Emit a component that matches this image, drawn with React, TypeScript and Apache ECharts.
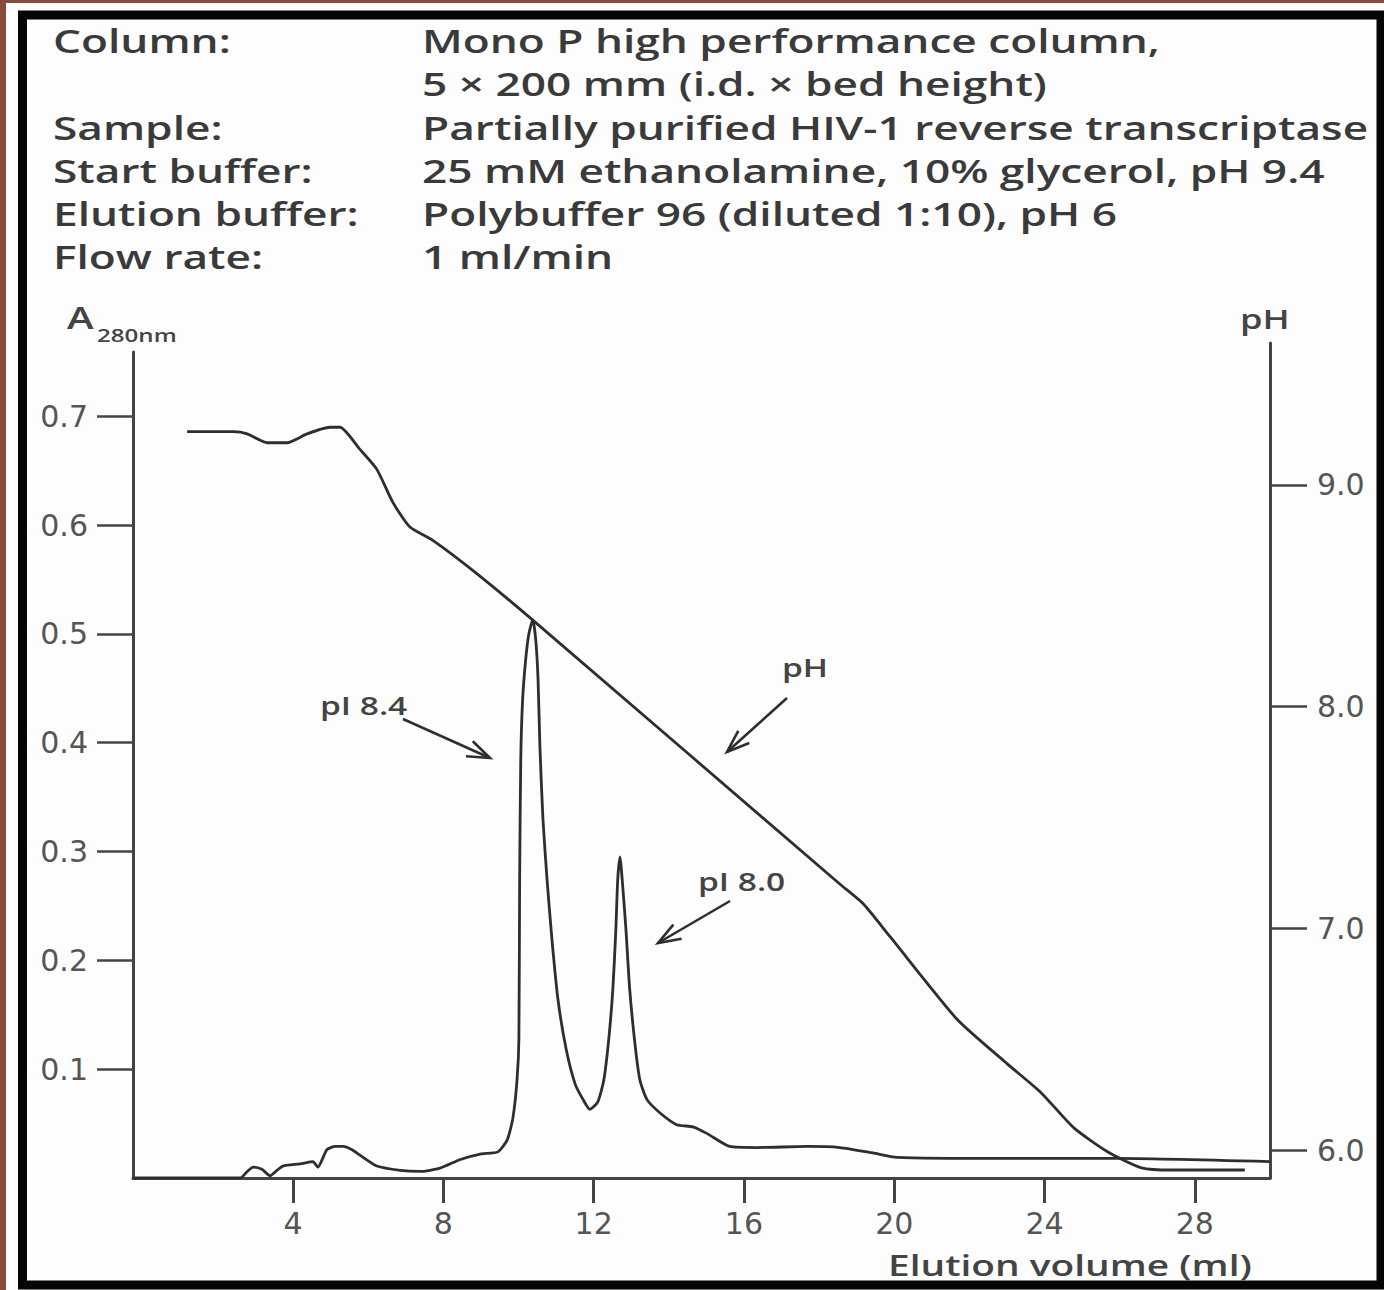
import React, { useEffect, useRef } from "react";
import * as echarts from "echarts";

// A280 trace (elution volume ml, absorbance)
const a280X = [-0.26, 2.59, 2.78, 2.94, 3.17, 3.39, 3.57, 3.73, 4.19, 4.53, 4.66, 4.9, 5.12, 5.33, 5.57, 5.78, 6.23, 6.85, 7.38, 7.91, 8.45, 8.98, 9.45, 9.7, 9.85, 9.96, 10.01, 10.03, 10.06, 10.11, 10.19, 10.27, 10.38, 10.46, 10.52, 10.57, 10.65, 10.76, 10.89, 11.05, 11.27, 11.51, 11.72, 11.9, 12.11, 12.27, 12.4, 12.51, 12.59, 12.64, 12.7, 12.78, 12.86, 12.96, 13.1, 13.23, 13.42, 13.76, 14.21, 14.64, 15.01, 15.62, 16.34, 17.67, 18.55, 19.43, 20.07, 22.81, 25.92, 30.0];
const a280Y = [0, 0, 0.006, 0.010, 0.008, 0.002, 0.007, 0.011, 0.013, 0.015, 0.010, 0.026, 0.029, 0.029, 0.026, 0.021, 0.011, 0.007, 0.006, 0.009, 0.017, 0.022, 0.024, 0.035, 0.055, 0.090, 0.127, 0.274, 0.385, 0.44, 0.476, 0.499, 0.513, 0.494, 0.458, 0.396, 0.33, 0.274, 0.219, 0.164, 0.118, 0.086, 0.072, 0.063, 0.070, 0.090, 0.127, 0.173, 0.228, 0.274, 0.295, 0.265, 0.228, 0.173, 0.123, 0.090, 0.072, 0.060, 0.049, 0.047, 0.041, 0.029, 0.028, 0.029, 0.028, 0.023, 0.019, 0.018, 0.018, 0.015];

// pH trace (elution volume ml, pH)
const phX = [1.18, 2.42, 2.78, 3.31, 3.84, 4.37, 4.98, 5.25, 5.78, 6.23, 6.66, 7.11, 7.72, 8.89, 10.38, 18.55, 19.18, 19.9, 21.67, 23.0, 23.9, 24.78, 25.7, 26.58, 27.38, 29.33];
const phY = [9.24, 9.24, 9.23, 9.19, 9.19, 9.23, 9.26, 9.26, 9.16, 9.07, 8.92, 8.81, 8.75, 8.6, 8.39, 7.2, 7.11, 6.96, 6.59, 6.39, 6.26, 6.1, 5.99, 5.92, 5.91, 5.91];

const xTicks = [4, 8, 12, 16, 20, 24, 28];
const aTicks = [0.1, 0.2, 0.3, 0.4, 0.5, 0.6, 0.7];
const phTicks = [6, 7, 8, 9];

const headerLabels = ["Column:", "", "Sample:", "Start buffer:", "Elution buffer:", "Flow rate:"];
const headerValues = [
  "Mono P high performance column,",
  "5 × 200 mm (i.d. × bed height)",
  "Partially purified HIV-1 reverse transcriptase",
  "25 mM ethanolamine, 10% glycerol, pH 9.4",
  "Polybuffer 96 (diluted 1:10), pH 6",
  "1 ml/min",
];

const SX = 1.34;
const FONT = "'Open Sans', 'Noto Sans', sans-serif";
const TXT = "#3a3a3a";
const LINE = "#2e2e2e";

function txt(text: string, x: number, y: number, size: number, color = TXT) {
  return {
    type: "text",
    x,
    y,
    scaleX: SX,
    z: 50,
    style: { text, fontSize: size, fontWeight: 600, fontFamily: FONT, fill: color, align: "left", verticalAlign: "middle" },
  };
}

function arrow(x1: number, y1: number, x2: number, y2: number) {
  const ang = Math.atan2(y2 - y1, x2 - x1);
  const L = 24;
  const a = (20 * Math.PI) / 180;
  const b1 = [x2 - L * Math.cos(ang - a), y2 - L * Math.sin(ang - a)];
  const b2 = [x2 - L * Math.cos(ang + a), y2 - L * Math.sin(ang + a)];
  const ls = { stroke: LINE, lineWidth: 2.6, fill: null };
  return [
    { type: "line", z: 50, shape: { x1, y1, x2, y2 }, style: ls },
    { type: "polyline", z: 50, shape: { points: [b1, [x2, y2], b2] }, style: ls },
  ];
}

export default function App() {
  const ref = useRef<HTMLDivElement>(null);
  useEffect(() => {
    document.body.style.margin = "0";
    const chart = echarts.init(ref.current!, undefined, { renderer: "svg" });
    const graphic: any[] = [
      { type: "rect", z: -10, shape: { x: 0, y: 0, width: 1384, height: 1290 }, style: { fill: "#8a4b3b" } },
      { type: "rect", z: -9, shape: { x: 6, y: 3, width: 1378, height: 1287 }, style: { fill: "#fdfdfd" } },
      { type: "rect", z: 100, shape: { x: 22.5, y: 15, width: 1358.5, height: 1270 }, style: { stroke: "#050505", lineWidth: 9, fill: null } },
    ];
    headerLabels.forEach((t, i) => {
      if (t) graphic.push(txt(t, 53, 40 + i * 43.2, 33));
    });
    headerValues.forEach((t, i) => graphic.push(txt(t, 422, 40 + i * 43.2, 33)));
    graphic.push(txt("A", 67, 317, 30, "#444"));
    graphic.push(txt("280nm", 97, 335, 18, "#444"));
    graphic.push(txt("pH", 1240, 318, 27, "#444"));
    graphic.push(txt("Elution volume (ml)", 888, 1265, 29, "#444"));
    graphic.push(txt("pI 8.4", 320, 705, 25, "#444"));
    graphic.push(txt("pH", 782, 667, 25, "#444"));
    graphic.push(txt("pI 8.0", 698, 881, 25, "#444"));
    graphic.push(...arrow(403, 719, 490, 758));
    graphic.push(...arrow(787, 698, 727, 752));
    graphic.push(...arrow(730, 901, 658, 943));

    const axisLine = { show: true, onZero: false, lineStyle: { color: "#444", width: 3 } };
    const labelStyle = { fontSize: 30, fontFamily: "'DejaVu Sans', sans-serif", color: "#555" };

    chart.setOption({
      animation: false,
      backgroundColor: "transparent",
      grid: [
        { left: 133, right: 114, top: 352, bottom: 112 },
        { left: 133, right: 114, top: 343, bottom: 112 },
      ],
      xAxis: [
        {
          type: "value",
          gridIndex: 0,
          min: -0.26,
          max: 30,
          axisLine,
          splitLine: { show: false },
          axisTick: { show: true, customValues: xTicks, length: 25, lineStyle: { color: "#444", width: 3 } },
          axisLabel: { customValues: xTicks, margin: 30, ...labelStyle },
        },
        { type: "value", gridIndex: 1, min: -0.26, max: 30, show: false },
      ],
      yAxis: [
        {
          type: "value",
          gridIndex: 0,
          position: "left",
          min: 0,
          max: 0.759,
          axisLine,
          splitLine: { show: false },
          axisTick: { show: true, customValues: aTicks, length: 36, lineStyle: { color: "#444", width: 2.5 } },
          axisLabel: { customValues: aTicks, margin: 45, formatter: (v: number) => v.toFixed(1), ...labelStyle },
        },
        {
          type: "value",
          gridIndex: 1,
          position: "right",
          min: 5.874,
          max: 9.64,
          axisLine,
          splitLine: { show: false },
          axisTick: { show: true, customValues: phTicks, length: 37, lineStyle: { color: "#444", width: 2.5 } },
          axisLabel: { customValues: phTicks, margin: 47, formatter: (v: number) => v.toFixed(1), ...labelStyle },
        },
      ],
      series: [
        {
          name: "A280nm",
          type: "line",
          xAxisIndex: 0,
          yAxisIndex: 0,
          data: a280X.map((x, i) => [x, a280Y[i]]),
          showSymbol: false,
          smooth: 0.2,
          lineStyle: { color: LINE, width: 2.8 },
        },
        {
          name: "pH",
          type: "line",
          xAxisIndex: 1,
          yAxisIndex: 1,
          data: phX.map((x, i) => [x, phY[i]]),
          showSymbol: false,
          smooth: 0.2,
          lineStyle: { color: LINE, width: 2.8 },
        },
      ],
      graphic,
    });
    return () => chart.dispose();
  }, []);
  return <div ref={ref} style={{ width: 1384, height: 1290 }} />;
}
